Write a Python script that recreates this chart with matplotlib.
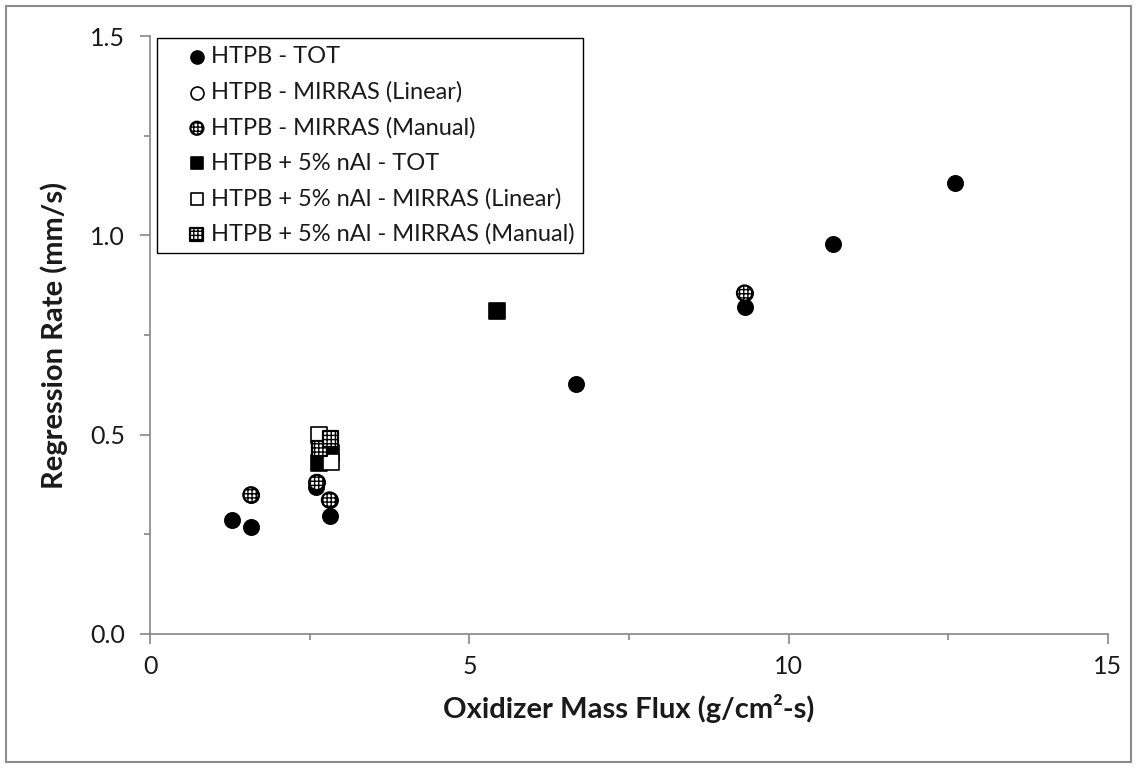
import matplotlib
matplotlib.use("Agg")
import matplotlib.pyplot as plt
from matplotlib.patches import Rectangle
from matplotlib.ticker import MultipleLocator, FormatStrFormatter

plt.rcParams['font.family'] = ['Lato', 'DejaVu Sans']
plt.rcParams['hatch.linewidth'] = 1.0

# HTPB series
htpb_tot_x = [1.28, 1.58, 2.60, 2.81, 6.67, 9.31, 10.70, 12.61]
htpb_tot_y = [0.286, 0.268, 0.368, 0.296, 0.627, 0.820, 0.978, 1.131]
htpb_lin_x = [1.58, 2.61, 2.81, 9.31]
htpb_lin_y = [0.349, 0.380, 0.336, 0.855]
htpb_man_x = [1.58, 2.61, 2.81, 9.31]
htpb_man_y = [0.349, 0.380, 0.336, 0.855]

# HTPB + 5% nAl series
nal_tot_x = [2.65, 2.83, 5.44]
nal_tot_y = [0.429, 0.454, 0.809]
nal_lin_x = [2.65, 2.83]
nal_lin_y = [0.500, 0.431]
nal_man_x = [2.65, 2.83]
nal_man_y = [0.466, 0.489]

labels = [
    "HTPB - TOT",
    "HTPB - MIRRAS (Linear)",
    "HTPB - MIRRAS (Manual)",
    "HTPB + 5% nAl - TOT",
    "HTPB + 5% nAl - MIRRAS (Linear)",
    "HTPB + 5% nAl - MIRRAS (Manual)",
]

fig = plt.figure(figsize=(11.37, 7.68), dpi=100)
ax = fig.add_axes([0.132, 0.1745, 0.8425, 0.7786])

ms = 11
ax.scatter(htpb_tot_x, htpb_tot_y, s=ms**2, marker='o', facecolor='black',
           edgecolor='black', linewidths=1.2, label=labels[0], zorder=3)
ax.scatter(htpb_lin_x, htpb_lin_y, s=ms**2, marker='o', facecolor='white',
           edgecolor='black', linewidths=1.2, label=labels[1], zorder=3)
ax.scatter(htpb_man_x, htpb_man_y, s=ms**2, marker='o', facecolor='white',
           edgecolor='black', linewidths=1.6, hatch='++++', label=labels[2], zorder=3)
ax.scatter(nal_tot_x, nal_tot_y, s=ms**2, marker='s', facecolor='black',
           edgecolor='black', linewidths=1.2, label=labels[3], zorder=3)
ax.scatter(nal_lin_x, nal_lin_y, s=ms**2, marker='s', facecolor='white',
           edgecolor='black', linewidths=1.2, label=labels[4], zorder=3)
ax.scatter(nal_man_x, nal_man_y, s=ms**2, marker='s', facecolor='white',
           edgecolor='black', linewidths=1.6, hatch='++++', label=labels[5], zorder=3)

ax.set_xlim(0, 15)
ax.set_ylim(0, 1.5)
ax.xaxis.set_major_locator(MultipleLocator(5))
ax.xaxis.set_minor_locator(MultipleLocator(2.5))
ax.yaxis.set_major_locator(MultipleLocator(0.5))
ax.yaxis.set_minor_locator(MultipleLocator(0.25))
ax.yaxis.set_major_formatter(FormatStrFormatter('%.1f'))

for side in ['top', 'right']:
    ax.spines[side].set_visible(False)
for side in ['left', 'bottom']:
    ax.spines[side].set_color('#868686')
    ax.spines[side].set_linewidth(1.2)

ax.tick_params(which='major', direction='out', length=7, width=1.2, color='#868686',
               labelsize=18, labelcolor='#1a1a1a')
ax.tick_params(which='minor', direction='out', length=4.5, width=1.2, color='#868686')
ax.tick_params(axis='y', which='major', pad=11)
ax.tick_params(axis='x', which='major', pad=8)

ax.set_xlabel('Oxidizer Mass Flux (g/cm²-s)', fontsize=21, fontweight='bold',
              color='#1a1a1a', labelpad=12)
ax.set_ylabel('Regression Rate (mm/s)', fontsize=21, fontweight='bold',
              color='#1a1a1a', labelpad=16)

leg = ax.legend(loc='upper left', bbox_to_anchor=(0.007, 0.997), borderaxespad=0,
                fontsize=17, frameon=True, fancybox=False, framealpha=1,
                edgecolor='black', borderpad=0.35, labelspacing=0.6,
                handlelength=2.7, handletextpad=-0.76, scatterpoints=1,
                markerscale=0.85)
leg.get_frame().set_linewidth(1.0)
for t in leg.get_texts():
    t.set_color('#1a1a1a')

fig.patches.append(Rectangle((0.005, 0.008), 0.99, 0.984, transform=fig.transFigure,
                             fill=False, edgecolor='#8c8c8c', linewidth=1.5))

fig.savefig('out.png', dpi=100)
plt.close(fig)
